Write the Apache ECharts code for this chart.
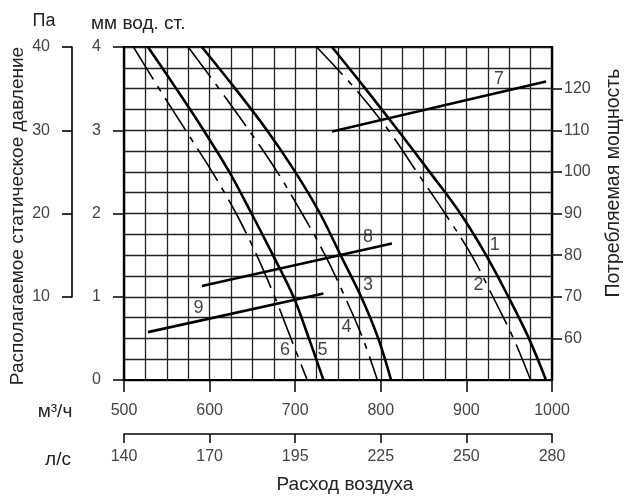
<!DOCTYPE html>
<html>
<head>
<meta charset="utf-8">
<script src="https://cdn.jsdelivr.net/npm/echarts@6/dist/echarts.min.js"></script>
<style>
html,body{margin:0;padding:0;background:#fff;}
#chart{width:624px;height:500px;}
</style>
</head>
<body>
<div id="chart"></div>
<script>
// ---- data (flow m3/h, pressure mm w.c.) ----
const flowTicks = [500, 600, 700, 800, 900, 1000];
const lsLabels = ['140', '170', '195', '225', '250', '280'];
const powerTicks = [60, 70, 80, 90, 100, 110, 120];

const curve1 = [[743,4.0],[782,3.5],[820,3.0],[857,2.5],[893,2.0],[923,1.5],[949,1.0],[973,0.5],[993,0]];
const curve2 = [[725,4.0],[770,3.5],[809,3.0],[842,2.5],[875,2.0],[906,1.5],[931,1.0],[955,0.5],[975,0]];
const curve3 = [[591,4.0],[630,3.5],[667,3.0],[700,2.5],[729,2.0],[753,1.5],[777,1.0],[797,0.5],[812,0]];
const curve4 = [[575,4.0],[611,3.5],[646,3.0],[679,2.5],[708,2.0],[735,1.5],[758,1.0],[779,0.5],[796,0]];
const curve5 = [[528,4.0],[561,3.5],[593,3.0],[623,2.5],[649,2.0],[674,1.5],[698,1.0],[716,0.5],[733,0]];
const curve6 = [[511,4.0],[541,3.5],[572,3.0],[603,2.5],[631,2.0],[655,1.5],[676,1.0],[695,0.5],[714,0]];

// power lines (flow, W)
const power7 = [[743,109.7],[993,121.7]];
const power8 = [[591,72.6],[813,82.8]];
const power9 = [[528,61.5],[733,70.8]];

// curve number labels (flow, mm)
const labelNames = ['1','2','3','4','5','6','7','8','9'];
const labelPos = [[933,1.62],[914,1.14],[785,1.14],[760,0.64],[732,0.36],[688,0.36],[938,3.62],[785,1.72],[587,0.86]];

// ---- chart ----
const chart = echarts.init(document.getElementById('chart'), null, {renderer: 'canvas'});
const FONT = '"Liberation Sans", Arial, sans-serif';
const gridLine = {color: '#222', width: 1.3};
const dashType = [38, 8, 6, 8];

function curve(data, dashed) {
  return {
    type: 'line', xAxisIndex: 0, yAxisIndex: 0, data: data,
    symbol: 'none', smooth: 0.35, silent: true,
    lineStyle: {color: '#000', width: dashed ? 1.6 : 2.6, type: dashed ? dashType : 'solid'}
  };
}
function pline(data) {
  return {
    type: 'line', xAxisIndex: 0, yAxisIndex: 1, data: data,
    symbol: 'none', silent: true,
    lineStyle: {color: '#000', width: 2.6}
  };
}

const option = {
  animation: false,
  backgroundColor: '#fff',
  textStyle: {fontFamily: FONT},
  grid: [
    {left: 124, top: 47, width: 428, height: 333, show: true, borderColor: '#000', borderWidth: 2.2, backgroundColor: 'transparent'},
    {left: 72, top: 47, width: 1, height: 250, show: false}
  ],
  xAxis: [
    {
      type: 'value', gridIndex: 0, min: 500, max: 1000, interval: 100, position: 'bottom',
      axisLine: {show: true, lineStyle: {color: '#000', width: 2.2}},
      axisTick: {show: true, inside: false, length: 12, lineStyle: {color: '#000', width: 1.5}},
      axisLabel: {margin: 23, fontSize: 16, color: '#444', fontFamily: FONT, formatter: v => String(v)},
      splitLine: {show: true, lineStyle: gridLine},
      minorTick: {show: false, splitNumber: 4},
      minorSplitLine: {show: true, lineStyle: gridLine}
    },
    {
      type: 'value', gridIndex: 0, min: 500, max: 1000, interval: 100, position: 'bottom', offset: 54,
      axisLine: {show: true, lineStyle: {color: '#000', width: 1.5}},
      axisTick: {show: true, inside: false, length: 9, lineStyle: {color: '#000', width: 1.5}},
      axisLabel: {margin: 15, fontSize: 16, color: '#444', fontFamily: FONT,
        formatter: v => { const i = flowTicks.indexOf(v); return i >= 0 ? lsLabels[i] : ''; }},
      splitLine: {show: false}
    },
    {type: 'value', gridIndex: 1, min: 0, max: 1, show: false}
  ],
  yAxis: [
    {
      type: 'value', gridIndex: 0, min: 0, max: 4, interval: 1, position: 'left',
      axisLine: {show: true, lineStyle: {color: '#000', width: 2.2}},
      axisTick: {show: true, inside: false, length: 11, lineStyle: {color: '#000', width: 1.5}},
      axisLabel: {margin: 23, fontSize: 16, color: '#444', fontFamily: FONT},
      splitLine: {show: true, lineStyle: gridLine},
      minorTick: {show: false, splitNumber: 4},
      minorSplitLine: {show: true, lineStyle: gridLine}
    },
    {
      type: 'value', gridIndex: 0, min: 50, max: 130, interval: 10, position: 'right',
      axisLine: {show: true, lineStyle: {color: '#000', width: 2.2}},
      axisTick: {show: true, inside: false, length: 10, customValues: powerTicks, lineStyle: {color: '#000', width: 1.5}},
      axisLabel: {margin: 12, fontSize: 16, color: '#444', fontFamily: FONT, customValues: powerTicks,
        formatter: v => (powerTicks.indexOf(v) >= 0 ? String(v) : '')},
      splitLine: {show: false}
    },
    {
      type: 'value', gridIndex: 1, min: 10, max: 40, interval: 10, position: 'left',
      axisLine: {show: true, lineStyle: {color: '#000', width: 1.6}},
      axisTick: {show: true, inside: false, length: 10, lineStyle: {color: '#000', width: 1.6}},
      axisLabel: {margin: 22, fontSize: 16, color: '#444', fontFamily: FONT},
      splitLine: {show: false}
    }
  ],
  graphic: [
    {type: 'text', x: 44, y: 21, style: {text: 'Па', fontSize: 18, fill: '#222', fontFamily: FONT, align: 'center', verticalAlign: 'middle'}},
    {type: 'text', x: 91, y: 24, style: {text: 'мм вод. ст.', fontSize: 19, fill: '#222', fontFamily: FONT, align: 'left', verticalAlign: 'middle'}},
    {type: 'text', x: 55, y: 412, style: {text: 'м³/ч', fontSize: 19, fill: '#222', fontFamily: FONT, align: 'center', verticalAlign: 'middle'}},
    {type: 'text', x: 58, y: 460, style: {text: 'л/с', fontSize: 19, fill: '#222', fontFamily: FONT, align: 'center', verticalAlign: 'middle'}},
    {type: 'text', x: 345, y: 485, style: {text: 'Расход воздуха', fontSize: 19, fill: '#222', fontFamily: FONT, align: 'center', verticalAlign: 'middle'}},
    {type: 'text', x: 18, y: 216, rotation: Math.PI / 2, style: {text: 'Располагаемое статическое давление', fontSize: 19, fill: '#222', fontFamily: FONT, align: 'center', verticalAlign: 'middle'}},
    {type: 'text', x: 614, y: 183, rotation: Math.PI / 2, style: {text: 'Потребляемая мощность', fontSize: 19.5, fill: '#222', fontFamily: FONT, align: 'center', verticalAlign: 'middle'}}
  ],
  series: [
    curve(curve1, false), curve(curve2, true), curve(curve3, false),
    curve(curve4, true), curve(curve5, false), curve(curve6, true),
    pline(power7), pline(power8), pline(power9),
    {
      type: 'scatter', xAxisIndex: 0, yAxisIndex: 0, silent: true,
      symbolSize: 0.1, itemStyle: {color: 'rgba(0,0,0,0)'},
      data: labelPos.map((p, i) => ({value: p, name: labelNames[i]})),
      label: {show: true, position: 'inside', formatter: p => p.name, fontSize: 18, color: '#111', fontFamily: FONT}
    }
  ]
};
chart.setOption(option);
</script>
</body>
</html>
